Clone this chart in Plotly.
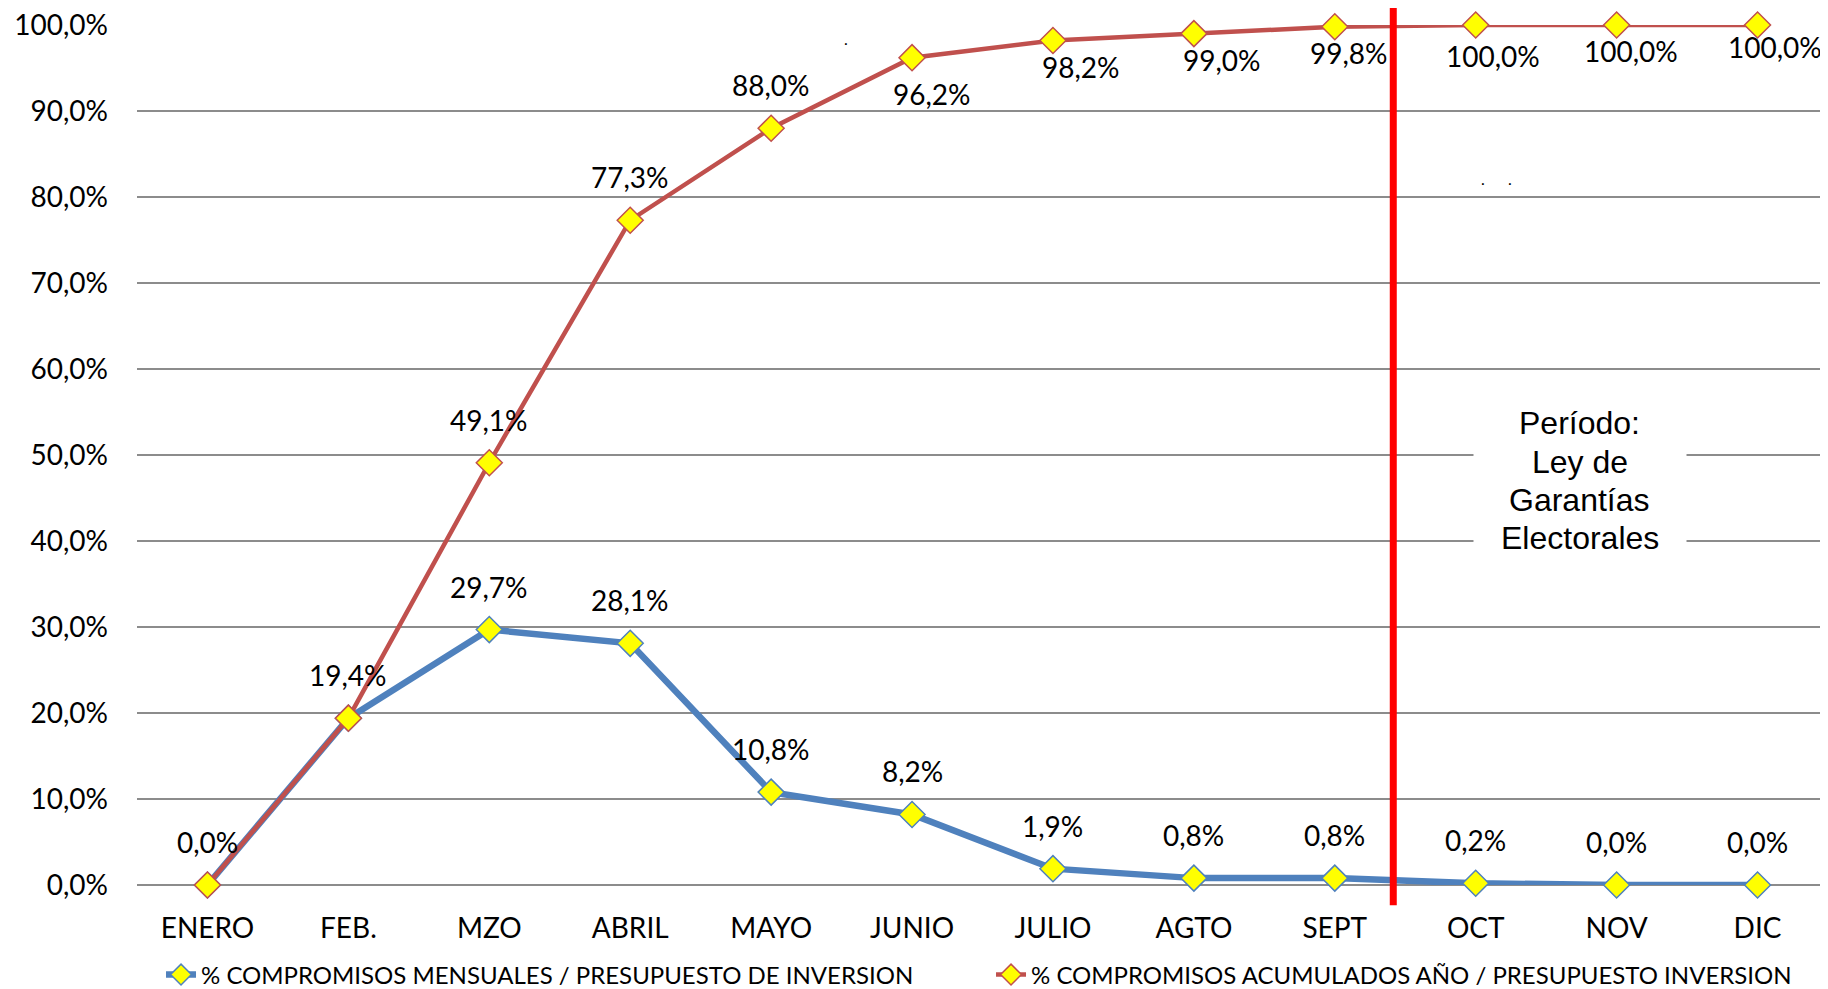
import plotly.graph_objects as go

# ---------------- data ----------------
months = ["ENERO", "FEB.", "MZO", "ABRIL", "MAYO", "JUNIO", "JULIO", "AGTO", "SEPT", "OCT", "NOV", "DIC"]
mensual = [0.0, 19.4, 29.7, 28.1, 10.8, 8.2, 1.9, 0.8, 0.8, 0.2, 0.0, 0.0]
acumulado = [0.0, 19.4, 49.1, 77.3, 88.0, 96.2, 98.2, 99.0, 99.8, 100.0, 100.0, 100.0]
y_ticks = [0, 10, 20, 30, 40, 50, 60, 70, 80, 90, 100]
name_mensual = "% COMPROMISOS MENSUALES / PRESUPUESTO DE INVERSION"
name_acum = "% COMPROMISOS ACUMULADOS AÑO / PRESUPUESTO INVERSION"
period_lines = ["Período:", "Ley de", "Garantías", "Electorales"]
divider_pos = 8.415   # position of the red divider (between SEPT and OCT)
period_pos = (9.74, 47.0)

# ---------------- style ----------------
BLUE = "#4F81BD"
RED = "#C0504D"
FONT = "Lato"
LABEL_SIZE = 28
# label offsets (pixels) for the accumulated series
acum_yshift = [43, 43, 43, 43, 43, -36, -27, -26, -26, -31, -26, -22]
acum_xshift = [0, 0, 0, 0, 0, 20, 28, 28, 14, 17, 14, 17]
PERIOD_LINE_GAP = 38.3  # px between text lines


def fmt(v):
    return f"{v:.1f}".replace(".", ",") + "%"


fig = go.Figure()

fig.add_trace(go.Scatter(
    x=months, y=mensual, name=name_mensual, mode="lines+markers",
    line=dict(color=BLUE, width=6.5),
    marker=dict(symbol="diamond", size=20, color="#FFFF00", line=dict(color=BLUE, width=1.5)),
    cliponaxis=False,
))
fig.add_trace(go.Scatter(
    x=months, y=acumulado, name=name_acum, mode="lines+markers",
    line=dict(color=RED, width=4.5),
    marker=dict(symbol="diamond", size=20, color="#FFFF00", line=dict(color=RED, width=1.5)),
    cliponaxis=False,
))

annotations = []
for i, (m, v) in enumerate(zip(months, acumulado)):
    annotations.append(dict(x=m, y=v, xref="x", yref="y", text=fmt(v), showarrow=False,
                            yshift=acum_yshift[i], xshift=acum_xshift[i],
                            font=dict(family=FONT, size=LABEL_SIZE, color="black")))
for i, (m, v) in enumerate(zip(months, mensual)):
    if v == acumulado[i]:
        continue
    annotations.append(dict(x=m, y=v, xref="x", yref="y", text=fmt(v), showarrow=False,
                            yshift=43, font=dict(family=FONT, size=LABEL_SIZE, color="black")))

# white box behind the period text
annotations.append(dict(x=period_pos[0], y=period_pos[1], xref="x", yref="y", text=" ",
                        showarrow=False, bgcolor="white", borderpad=0, width=212, height=160,
                        font=dict(size=10)))
n = len(period_lines)
for k, line in enumerate(period_lines):
    annotations.append(dict(x=period_pos[0], y=period_pos[1], xref="x", yref="y", text=line,
                            showarrow=False, yshift=((n - 1) / 2 - k) * PERIOD_LINE_GAP,
                            font=dict(family="Liberation Sans, Arial", size=32, color="black")))
# stray dots visible in the original
for (dx, dy) in [(4.53, 98.4), (9.05, 82.2), (9.24, 82.2)]:
    annotations.append(dict(x=dx, y=dy, xref="x", yref="y", text=".", showarrow=False,
                            font=dict(family=FONT, size=16, color="black")))

fig.add_shape(type="line", xref="x", yref="paper", x0=divider_pos, x1=divider_pos,
              y0=-0.0235, y1=1.03, line=dict(color="#FF0000", width=7), layer="above")

# page body has an 8px margin: figure is 8px smaller and margins compensate
fig.update_layout(
    width=1820, height=981,
    margin=dict(l=129, r=0, t=16.5, b=104, autoexpand=False),
    plot_bgcolor="white", paper_bgcolor="white",
    font=dict(family=FONT, size=LABEL_SIZE, color="black"),
    showlegend=True,
    legend=dict(orientation="h", x=0.0142, y=-0.1046, xanchor="left", yanchor="middle",
                font=dict(family=FONT, size=24, color="black"),
                entrywidth=785, entrywidthmode="pixels", bgcolor="rgba(0,0,0,0)"),
    annotations=annotations,
)
fig.update_xaxes(type="category", range=[-0.5, 11.5], showgrid=False, showline=False,
                 ticks="", ticklabelstandoff=24, tickfont=dict(family=FONT, size=LABEL_SIZE))
fig.update_yaxes(range=[0, 100], tickvals=y_ticks, ticktext=[fmt(t) for t in y_ticks],
                 ticklabeloverflow="allow",
                 showgrid=True, gridcolor="#8C8C8C", gridwidth=2,
                 zeroline=True, zerolinecolor="#8C8C8C", zerolinewidth=2,
                 showline=False, ticks="", ticklabelstandoff=28,
                 tickfont=dict(family=FONT, size=LABEL_SIZE))

fig.write_html("out.html")
